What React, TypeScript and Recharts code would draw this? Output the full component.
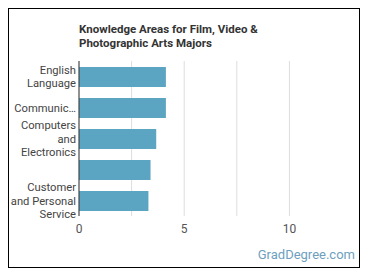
import { BarChart, Bar, XAxis, YAxis, CartesianGrid } from "recharts";

const categories = [
  "English Language",
  "Communications and Media",
  "Computers and Electronics",
  "Fine Arts",
  "Customer and Personal Service",
];
const scores = [4.13, 4.13, 3.67, 3.4, 3.3];
const tickLines = [
  ["English", "Language"],
  ["Communic…"],
  ["Computers", "and", "Electronics"],
  [],
  ["Customer", "and Personal", "Service"],
];
const xTicks = [0, 2.5, 5, 7.5, 10];

const data = categories.map((name, i) => ({ name, score: scores[i] }));

function CategoryTick(props: any) {
  const { x, y, payload } = props;
  const lines = tickLines[payload.index] ?? [];
  const lh = 13.7;
  const start = -((lines.length - 1) * lh) / 2 + 4;
  return (
    <text x={x} y={y} textAnchor="end" fill="#444" fontSize={11.2} fontFamily="Roboto">
      {lines.map((l, i) => (
        <tspan key={i} x={x} dy={i === 0 ? start : lh}>
          {l}
        </tspan>
      ))}
    </text>
  );
}

export default function App() {
  return (
    <div
      style={{
        position: "relative",
        width: 350,
        height: 258,
        border: "1px solid #000",
        fontFamily: "Roboto",
      }}
    >
      <div
        style={{
          position: "absolute",
          left: 70,
          top: 14,
          fontSize: 11.5,
          fontWeight: 700,
          lineHeight: "13.5px",
          color: "#333",
        }}
      >
        Knowledge Areas for Film, Video &amp;
        <br />
        Photographic Arts Majors
      </div>
      <BarChart
        width={350}
        height={258}
        data={data}
        layout="vertical"
        margin={{ top: 52, right: 17, bottom: 31, left: 0 }}
      >
        <CartesianGrid horizontal={false} stroke="#ddd" syncWithTicks />
        <XAxis
          type="number"
          domain={[0, 12.5]}
          ticks={xTicks}
          axisLine={false}
          tickLine={false}
          tick={{ fill: "#555", fontSize: 12 }}
          tickFormatter={(v: number) => (Number.isInteger(v) ? String(v) : "")}
          height={20}
        />
        <YAxis
          type="category"
          dataKey="name"
          width={70}
          tickLine={false}
          tickSize={0}
          tickMargin={3}
          axisLine={{ stroke: "#333" }}
          tick={<CategoryTick />}
          interval={0}
        />
        <Bar dataKey="score" fill="#5ba4c2" barSize={20} isAnimationActive={false} />
      </BarChart>
      <div
        style={{
          position: "absolute",
          right: 4,
          bottom: 5,
          fontSize: 13,
          color: "#6e9fbe",
        }}
      >
        GradDegree.com
      </div>
    </div>
  );
}
